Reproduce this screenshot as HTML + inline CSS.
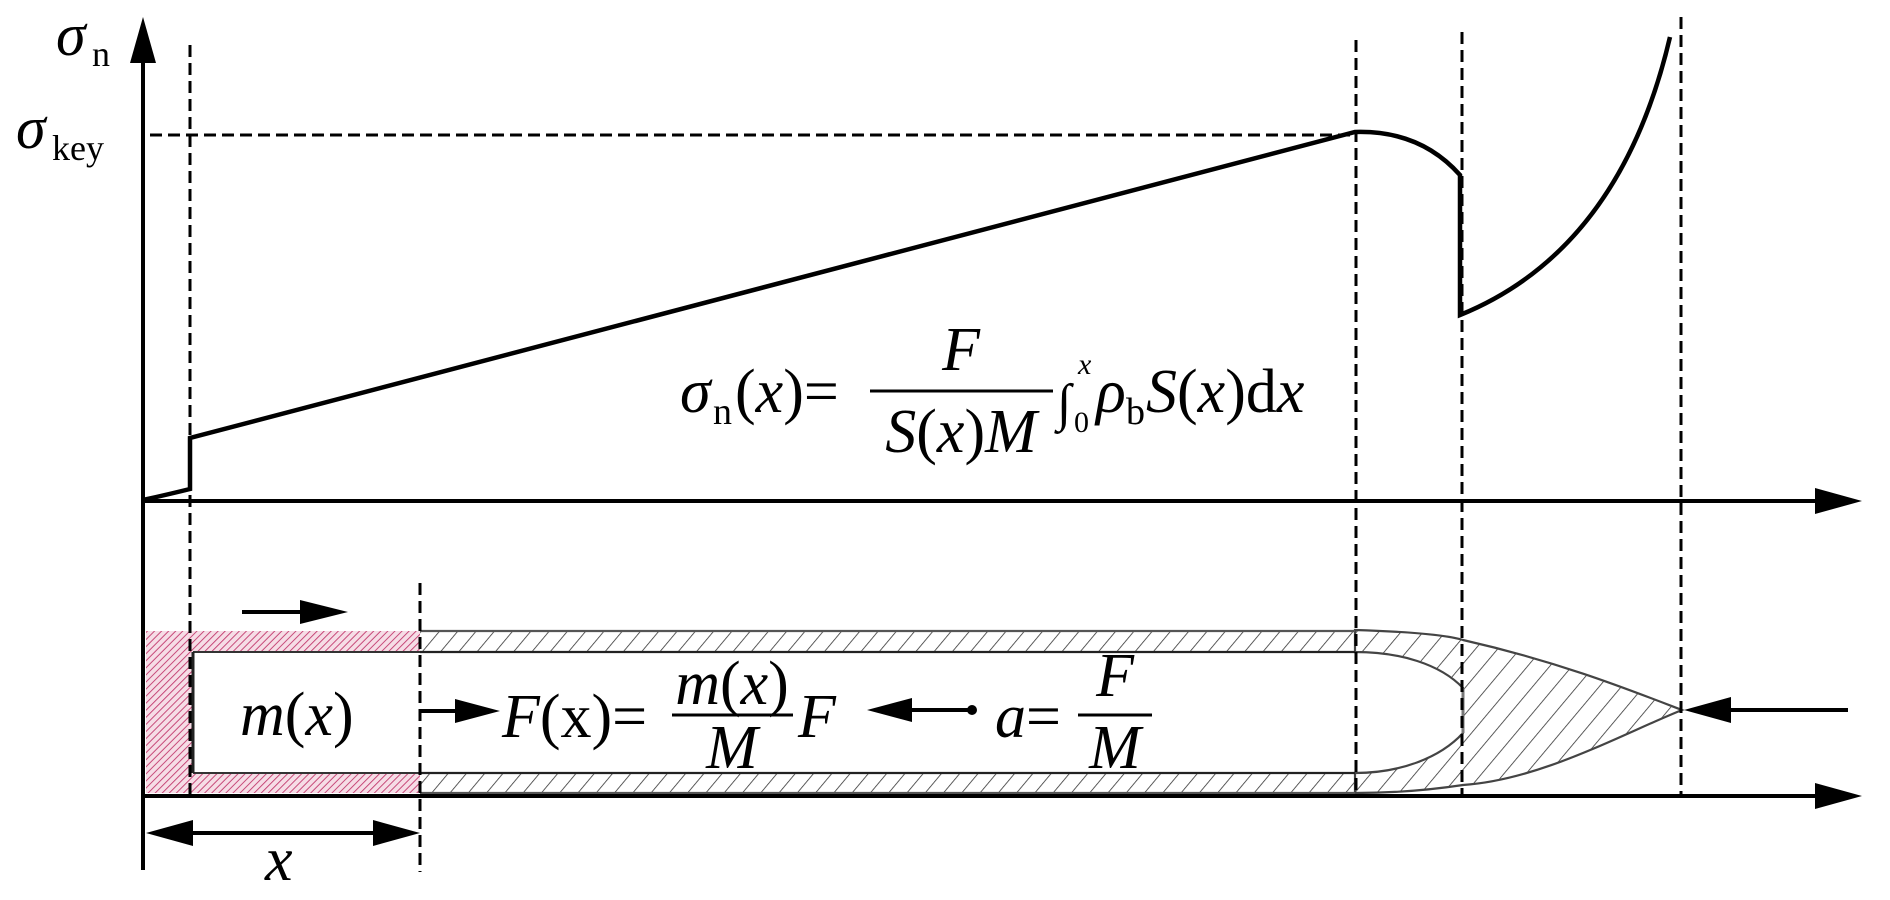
<!DOCTYPE html>
<html><head><meta charset="utf-8"><style>
html,body{margin:0;padding:0;background:#fff;width:1890px;height:900px;overflow:hidden}
svg{display:block}
text{font-family:"Liberation Serif","Times New Roman","DejaVu Serif",serif;fill:#000}
.i{font-style:italic}
</style></head><body>
<svg width="1890" height="900" viewBox="0 0 1890 900" xmlns="http://www.w3.org/2000/svg" font-family="Liberation Serif, serif">
<defs>
<pattern id="pk" width="5" height="5" patternUnits="userSpaceOnUse" patternTransform="rotate(45)">
<rect width="5" height="5" fill="#f6dde6"/><line x1="0" y1="0" x2="0" y2="5" stroke="#c23a6e" stroke-width="1.8"/></pattern>
<pattern id="gh" width="14" height="14" patternUnits="userSpaceOnUse" patternTransform="rotate(40)">
<line x1="0" y1="0" x2="0" y2="14" stroke="#333" stroke-width="1.6"/></pattern>
<pattern id="gh2" width="17" height="17" patternUnits="userSpaceOnUse" patternTransform="rotate(40)">
<line x1="0" y1="0" x2="0" y2="17" stroke="#333" stroke-width="1.6"/></pattern>
</defs>

<rect x="420" y="631" width="935" height="21" fill="url(#gh)"/>
<rect x="420" y="773" width="935" height="20" fill="url(#gh)"/>
<path d="M1355,630 C1420,632 1450,636 1463,640 C1560,662 1630,690 1682,710 C1620,735 1540,780 1463,785 C1430,790 1390,793 1355,793 L1355,773 C1400,773 1440,758 1463,733 L1463,688 C1440,664 1400,652 1355,652 Z" fill="url(#gh2)" stroke="#444" stroke-width="2.2"/>
<line x1="1463" y1="688" x2="1463" y2="733" stroke="#777" stroke-width="3"/>
<line x1="420" y1="631" x2="1355" y2="631" stroke="#555" stroke-width="2.2"/>
<line x1="420" y1="652" x2="1355" y2="652" stroke="#222" stroke-width="2.2"/>
<line x1="420" y1="773" x2="1355" y2="773" stroke="#222" stroke-width="2.2"/>
<line x1="420" y1="793" x2="1355" y2="793" stroke="#555" stroke-width="2.2"/>
<path d="M146,631 H420 V652 H193 V773 H420 V793 H146 Z" fill="url(#pk)"/>
<line x1="193" y1="652" x2="420" y2="652" stroke="#333" stroke-width="2"/>
<line x1="193" y1="773" x2="420" y2="773" stroke="#333" stroke-width="2"/>
<line x1="193" y1="652" x2="193" y2="773" stroke="#222" stroke-width="3"/>

<line x1="143" y1="60" x2="143" y2="870" stroke="#000" stroke-width="4"/>
<polygon points="143,17 130,63 156,63" fill="#000"/>
<line x1="143" y1="501" x2="1820" y2="501" stroke="#000" stroke-width="4"/>
<polygon points="1862,501 1815,488 1815,514" fill="#000"/>
<line x1="143" y1="796" x2="1820" y2="796" stroke="#000" stroke-width="4"/>
<polygon points="1862,796 1815,783 1815,809" fill="#000"/>

<g stroke="#000" stroke-width="3" stroke-dasharray="12,6" fill="none">
<line x1="190" y1="45" x2="190" y2="795"/>
<line x1="420" y1="583" x2="420" y2="872"/>
<line x1="1356" y1="40" x2="1356" y2="795"/>
<line x1="1462" y1="32" x2="1462" y2="795"/>
<line x1="1681" y1="17" x2="1681" y2="795"/>
<line x1="150" y1="135" x2="1356" y2="135"/>
</g>

<path d="M143,500 Q170,494 190,489 L190,438 L1355,132 Q1420,130 1460,175 L1460,315 Q1620,250 1670,37" fill="none" stroke="#000" stroke-width="4.5"/>

<text x="56" y="55" class="i" font-size="60">σ</text><text x="92" y="66" font-size="36">n</text>
<text x="16" y="148" class="i" font-size="60">σ</text><text x="52" y="160" font-size="36">key</text>

<text x="680" y="412" class="i" font-size="62">σ</text>
<text x="713" y="424" font-size="38">n</text>
<text x="735" y="412" font-size="62">(<tspan class="i">x</tspan>)=</text>
<line x1="870" y1="391" x2="1053" y2="391" stroke="#000" stroke-width="3"/>
<text x="961" y="370" class="i" font-size="62" text-anchor="middle">F</text>
<text x="961" y="452" font-size="62" text-anchor="middle"><tspan class="i">S</tspan>(<tspan class="i">x</tspan>)<tspan class="i">M</tspan></text>
<text x="1057" y="420" font-size="52">∫</text>
<text x="1078" y="374" class="i" font-size="30">x</text>
<text x="1074" y="432" font-size="30">0</text>
<text x="1096" y="412" class="i" font-size="62">ρ</text>
<text x="1126" y="424" font-size="38">b</text>
<text x="1146" y="412" font-size="62"><tspan class="i">S</tspan>(<tspan class="i">x</tspan>)d<tspan class="i">x</tspan></text>

<text x="240" y="735" font-size="62"><tspan class="i">m</tspan>(<tspan class="i">x</tspan>)</text>
<text x="502" y="737" font-size="62"><tspan class="i">F</tspan>(x)=</text>
<line x1="672" y1="715" x2="793" y2="715" stroke="#000" stroke-width="3"/>
<text x="732" y="704" font-size="62" text-anchor="middle"><tspan class="i">m</tspan>(<tspan class="i">x</tspan>)</text>
<text x="732" y="768" class="i" font-size="62" text-anchor="middle">M</text>
<text x="798" y="737" class="i" font-size="62">F</text>

<text x="995" y="737" class="i" font-size="62">a</text>
<text x="1026" y="737" font-size="62">=</text>
<line x1="1078" y1="715" x2="1152" y2="715" stroke="#000" stroke-width="3"/>
<text x="1115" y="696" class="i" font-size="62" text-anchor="middle">F</text>
<text x="1115" y="768" class="i" font-size="62" text-anchor="middle">M</text>

<text x="265" y="880" class="i" font-size="62">x</text>

<line x1="242" y1="612" x2="305" y2="612" stroke="#000" stroke-width="4"/>
<polygon points="348,612 300,600 300,624" fill="#000"/>
<line x1="420" y1="711" x2="460" y2="711" stroke="#000" stroke-width="4"/>
<polygon points="500,711 455,699 455,723" fill="#000"/>
<line x1="905" y1="710" x2="972" y2="710" stroke="#000" stroke-width="4"/>
<polygon points="867,710 912,698 912,722" fill="#000"/>
<circle cx="972" cy="710" r="5" fill="#000"/>
<line x1="1725" y1="710" x2="1848" y2="710" stroke="#000" stroke-width="4"/>
<polygon points="1684,710 1731,697 1731,723" fill="#000"/>
<line x1="190" y1="833" x2="380" y2="833" stroke="#000" stroke-width="4"/>
<polygon points="146,833 193,820 193,846" fill="#000"/>
<polygon points="420,833 373,820 373,846" fill="#000"/>
</svg>
</body></html>
